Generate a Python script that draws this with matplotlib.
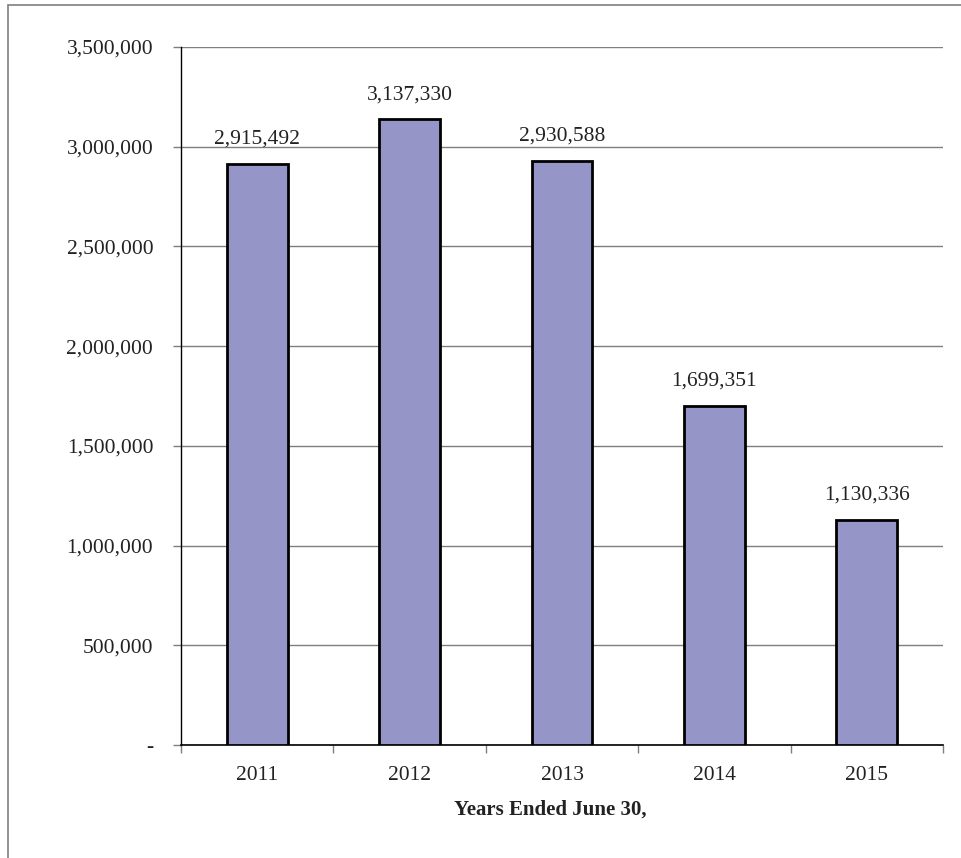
import numpy as np
import matplotlib.pyplot as plt
from matplotlib.patches import Rectangle
from matplotlib.ticker import FuncFormatter, FixedLocator

years = ['2011', '2012', '2013', '2014', '2015']
values = [2915492, 3137330, 2930588, 1699351, 1130336]
xlabel = 'Years Ended June 30,'

plt.rcParams['font.family'] = ['Liberation Serif', 'DejaVu Serif']

fig = plt.figure(figsize=(9.61, 8.58), dpi=100)
ax = fig.add_axes([181/961, 1-745/858, (943-181)/961, (745-47)/858])

# outer frame of the chart area (right and bottom edges fall outside the image)
fig.patches.append(Rectangle((8/961, -1.0), 2.0, 2.0-5/858, transform=fig.transFigure,
                             fill=False, edgecolor='#7f7f7f', lw=1.2))

x = np.arange(len(years))
bars = ax.bar(x, values, width=0.4, color='#9595c8', edgecolor='black', lw=2.0, zorder=3)

for xi, v in zip(x, values):
    ax.annotate(f'{v:,}', (xi, v), xytext=(0, 11), textcoords='offset points',
                ha='center', va='bottom', fontsize=15.5, color='#222222')

ax.set_xlim(-0.5, len(years) - 0.5)
ax.set_ylim(0, 3500000)
ax.yaxis.set_major_locator(FixedLocator(np.arange(0, 3500001, 500000)))
ax.yaxis.set_major_formatter(FuncFormatter(lambda v, p: '-' if v == 0 else f'{int(v):,}'))
ax.grid(axis='y', color='#7f7f7f', lw=1, zorder=0)

ax.set_xticks(x)
ax.set_xticklabels(years)
ax.set_xticks(np.arange(-0.5, len(years)), minor=True)
ax.tick_params(axis='x', which='major', length=0, pad=15, labelsize=15.5, labelcolor='#222222')
ax.tick_params(axis='x', which='minor', length=6, width=1, color='#7f7f7f')
ax.tick_params(axis='y', length=6, width=1, color='#7f7f7f', pad=14, labelsize=15.5,
               labelcolor='#222222')

for s in ['top', 'right']:
    ax.spines[s].set_visible(False)
ax.spines['left'].set_color('black')
ax.spines['bottom'].set_color('black')
ax.spines['left'].set_linewidth(1)
ax.spines['bottom'].set_linewidth(1.2)

fig.text(550/961, 1-810/858, xlabel, ha='center', va='center', fontsize=15,
         fontweight='bold', color='#222222')

fig.savefig('out.png', dpi=100)
